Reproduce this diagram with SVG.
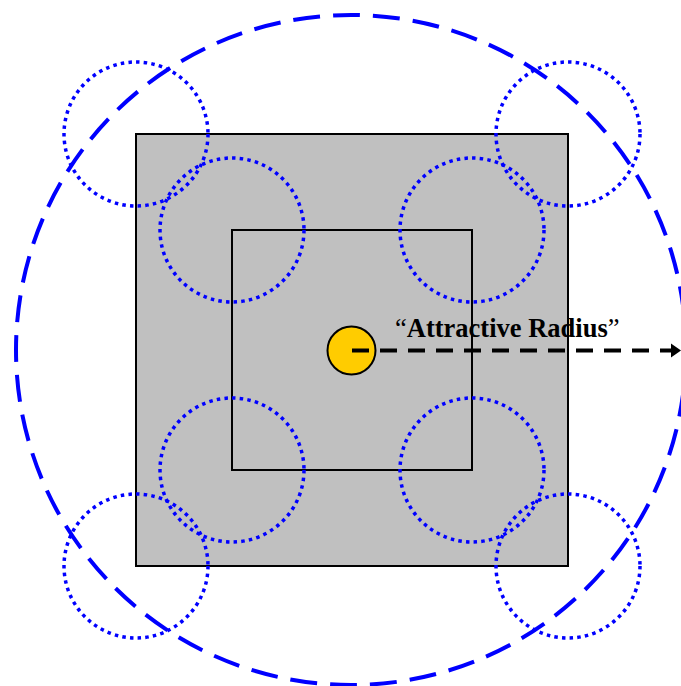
<svg xmlns="http://www.w3.org/2000/svg" width="681" height="686" viewBox="0 0 681 686">
<style>
.dot{fill:none;stroke:#0000FF;stroke-width:3.5;stroke-dasharray:3.5 4.2}
.box{stroke:#000;stroke-width:2}
</style>
<defs>
<marker id="ah" markerUnits="userSpaceOnUse" markerWidth="11" markerHeight="15" refX="10" refY="7.5" orient="auto">
<polygon points="0,0.5 10,7.5 0,14.5" fill="#000"/>
</marker>
</defs>
<rect width="681" height="686" fill="#fff"/>
<g id="outer-square"><rect class="box" x="136" y="134" width="432" height="432" fill="#C0C0C0"/></g>
<g id="inner-square"><rect class="box" x="232" y="230" width="240" height="240" fill="none"/></g>
<g id="label"><text x="395" y="337" font-family="Liberation Serif, serif" font-size="26.5" fill="#000"><tspan>“</tspan><tspan font-weight="bold">Attractive Radius</tspan><tspan>”</tspan></text></g>
<g id="dotted-circles">
<circle class="dot" cx="136" cy="134" r="72"/>
<circle class="dot" cx="568" cy="134" r="72"/>
<circle class="dot" cx="136" cy="566" r="72"/>
<circle class="dot" cx="568" cy="566" r="72"/>
<circle class="dot" cx="232" cy="230" r="72"/>
<circle class="dot" cx="472" cy="230" r="72"/>
<circle class="dot" cx="232" cy="470" r="72"/>
<circle class="dot" cx="472" cy="470" r="72"/>
</g>
<g id="attractive-circle"><circle cx="351" cy="350" r="335" fill="none" stroke="#0000FF" stroke-width="4" stroke-dasharray="27 13"/></g>
<g id="particle"><circle cx="351.5" cy="350.5" r="24" fill="#FFCC00" stroke="#000" stroke-width="2"/></g>
<g id="connectors"><line x1="352" y1="350.5" x2="681" y2="350.5" stroke="#000" stroke-width="4" stroke-dasharray="17 11" marker-end="url(#ah)"/></g>
</svg>
